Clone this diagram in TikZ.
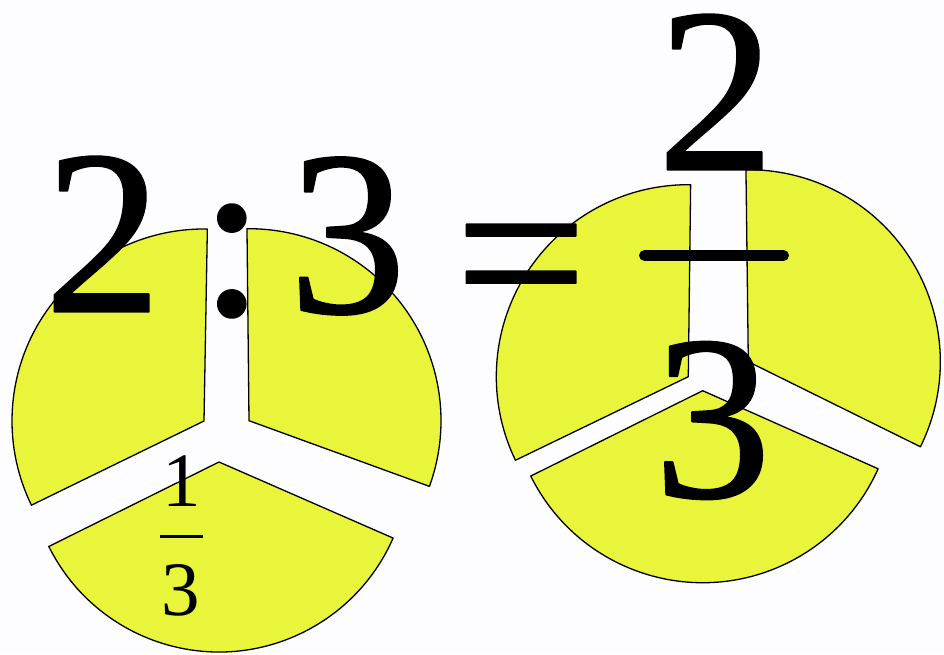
\documentclass[tikz,border=0pt]{standalone}
\usepackage{fontspec}
\setmainfont{Liberation Serif}
\newfontfamily\timesdigits[FakeBold=0.8]{Liberation Serif}
\definecolor{pieyellow}{RGB}{232,245,58}
\definecolor{paper}{RGB}{253,253,255}
\tikzset{
	piece/.style={fill=pieyellow, draw=black, line width=1.3pt},
	bigdigit/.style={inner sep=0pt, font=\timesdigits\fontsize{235}{240}\selectfont},
	smalldigit/.style={inner sep=0pt, font=\fontsize{77}{80}\selectfont}
}
\begin{document}
\begin{tikzpicture}[x=1pt, y=1pt, line join=round, line cap=round]
	\fill[paper] (0,0) rectangle (944,654);
	\useasboundingbox (0,0) rectangle (944,654);
	% left pie, cut in three
	\draw[piece] (204,233)--++(89:192) arc (89:206:192)--cycle;
	\draw[piece] (249,233.3)--++(-20:192) arc (-20:90.6:192)--cycle;
	\draw[piece] (219,192)--++(206.4:190) arc (206.4:336.4:190)--cycle;
	% right pie, cut in three
	\draw[piece] (688.3,277.3)--++(89.3:192) arc (89.3:205.8:192)--cycle;
	\draw[piece] (748.3,292.3)--++(-26.3:192) arc (-26.3:90.7:192)--cycle;
	\draw[piece] (702.7,263.3)--++(206.4:192) arc (206.4:336:192)--cycle;
	% ratio and fraction
	\node[bigdigit] (two) at(103,420){2};
	\node[bigdigit] (colon) at(232,393){:};
	\node[bigdigit] (three) at(347.5,418){3};
	\node[bigdigit] (equals) at(521,376){=};
	\node[bigdigit] (numtwo) at(716,562){2};
	\node[bigdigit] (denthree) at(712.5,233.5){3};
	\draw[line width=11pt] (644.5,398.5)--(783.5,398.5);
	% one third in the lower piece
	\node[smalldigit] (numone) at(181.7,173){1};
	\node[smalldigit] (denone) at(181,64){3};
	\draw[line width=2.7pt, line cap=butt] (160,117.5)--(203,117.5);
\end{tikzpicture}
\end{document}
